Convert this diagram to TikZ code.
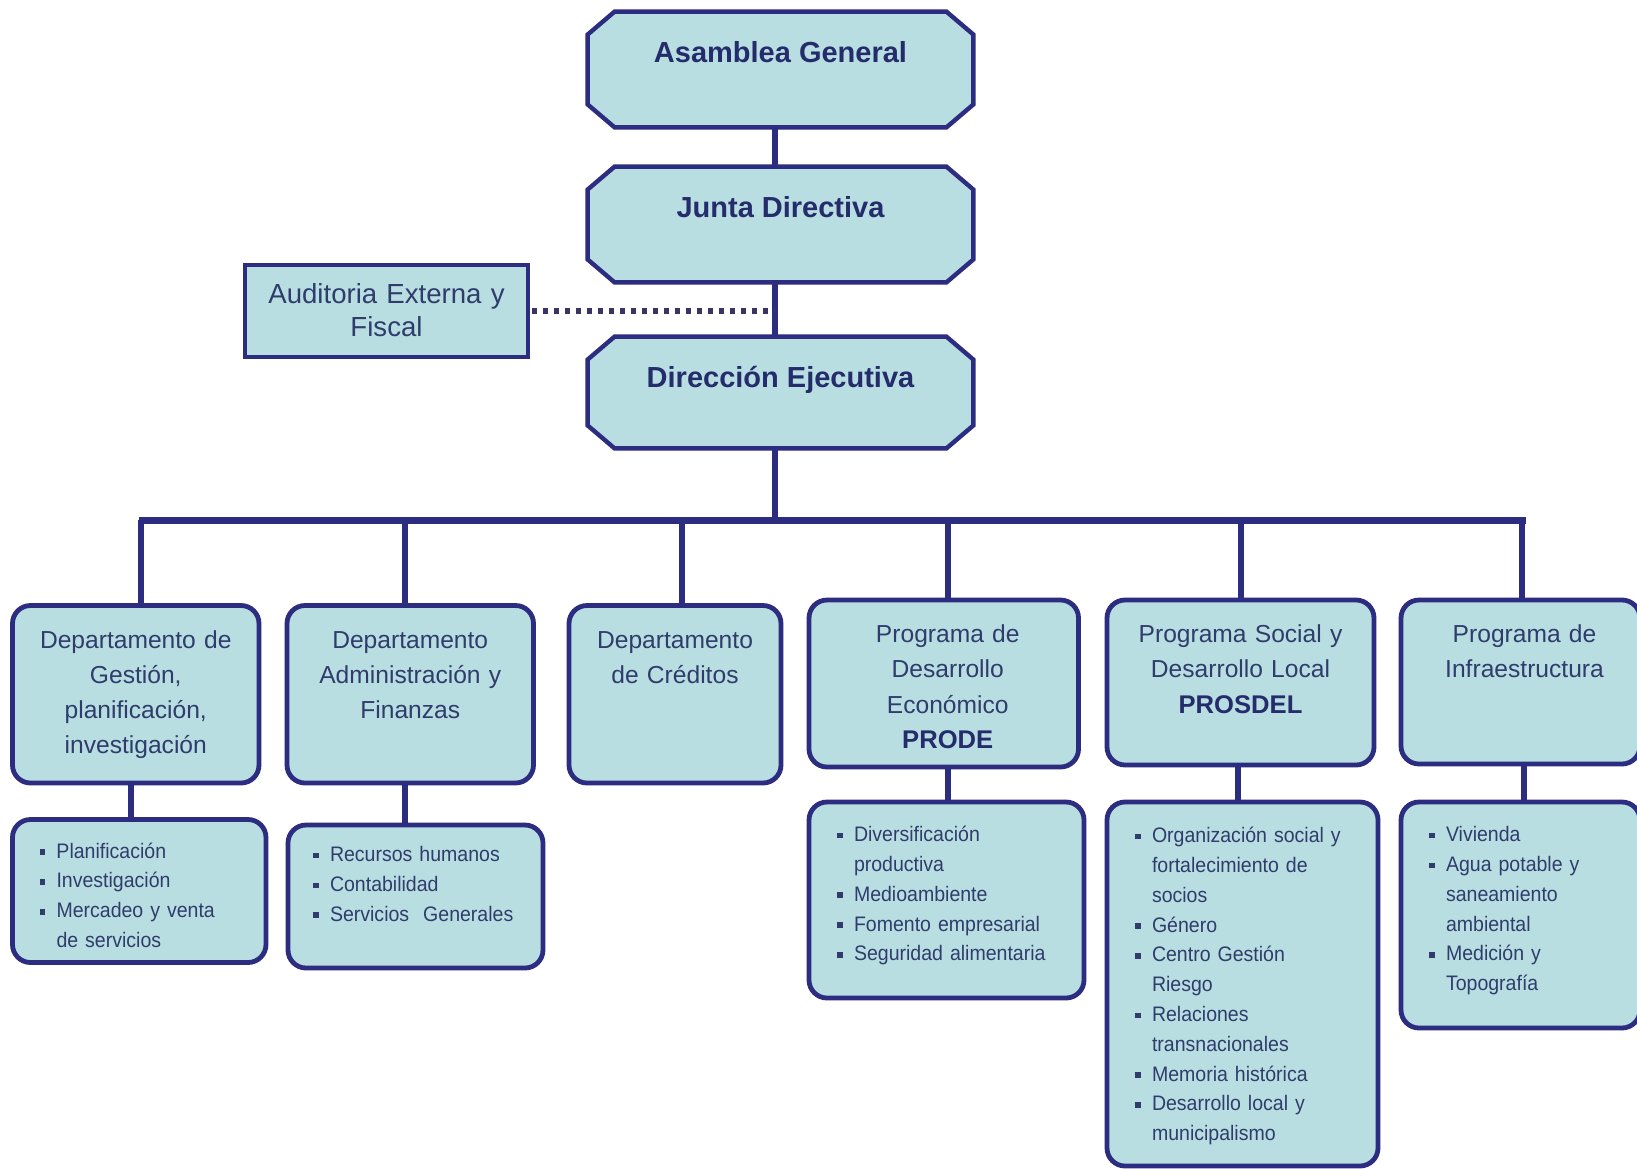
\documentclass[tikz,border=0pt]{standalone}
\usepackage{fontspec}
\setmainfont{Liberation Sans}
\newfontfamily\listfont[FakeStretch=0.93]{Liberation Sans}
\usetikzlibrary{calc}
\definecolor{fillc}{RGB}{185,222,225}
\definecolor{linec}{RGB}{44,44,128}
\definecolor{txtc}{RGB}{47,60,108}
\definecolor{boldc}{RGB}{36,44,108}
\definecolor{dotc}{RGB}{58,52,100}
\newcommand\bullitem{\makebox[8.5pt][l]{\rule[1.6pt]{2.8pt}{2.8pt}}}
\newcommand\indr{\hspace*{8.5pt}}
\newcommand\octdraw[1]{\draw[octline] ([xshift=13.5pt]#1.north west) -- ([xshift=-13.5pt]#1.north east) -- ([yshift=-11.5pt]#1.north east) -- ([yshift=11.5pt]#1.south east) -- ([xshift=-13.5pt]#1.south east) -- ([xshift=13.5pt]#1.south west) -- ([yshift=11.5pt]#1.south west) -- ([yshift=-11.5pt]#1.north west) -- cycle;}
\tikzset{
  conn/.style={draw=linec, line width=3pt},
  busline/.style={draw=linec, line width=3.5pt},
  dotline/.style={draw=dotc, line width=2.6pt, dash pattern=on 2.6pt off 2.9pt},
  octnode/.style={inner sep=0pt, minimum width=192.5pt},
  octline/.style={draw=linec, fill=fillc, line width=2.2pt, line join=miter},
  rbox/.style={draw=linec, fill=fillc, line width=2.4pt, rounded corners=9pt, inner sep=0pt},
  audbox/.style={draw=linec, fill=fillc, line width=1.6pt, inner sep=0pt, minimum width=141.5pt, minimum height=46pt},
  toptxt/.style={font=\fontsize{14.5}{17}\selectfont\bfseries, text=boldc, anchor=base, inner sep=0pt},
  audtxt/.style={font=\fontsize{13.8}{16.5}\selectfont, text=txtc, anchor=base, inner sep=0pt, align=center, text width=135pt},
  midtxt/.style={font=\fontsize{12.3}{17.6}\selectfont, text=txtc, anchor=base, inner sep=0pt, align=center, text width=125pt},
  listtxt/.style={font=\listfont\fontsize{10.5}{14.9}\selectfont, text=txtc, anchor=base west, inner sep=0pt, align=left, text width=125pt},
}
\newcommand\bfl[1]{{\fontsize{12.8}{17.6}\selectfont\bfseries\color{boldc}#1}}
\begin{document}
\begin{tikzpicture}[x=0.5pt,y=-0.5pt]
\useasboundingbox (0,0) rectangle (1637,1168);
\fill[white] (0,0) rectangle (1637,1168);

% top octagons
\node[octnode, minimum height=57.5pt] (AG) at (780.5,69.5) {};
\node[octnode, minimum height=57.5pt] (JD) at (780.5,224.5) {};
\node[octnode, minimum height=55.5pt] (DE) at (780.5,392.5) {};
\octdraw{AG}
\octdraw{JD}
\octdraw{DE}
\node[toptxt] (tAG) at ([yshift=-25.5pt]AG.north) {Asamblea General};
\node[toptxt] (tJD) at ([yshift=-25.5pt]JD.north) {Junta Directiva};
\node[toptxt] (tDE) at ([yshift=-25.5pt]DE.north) {Dirección Ejecutiva};

% audit box
\node[audbox] (AUD) at (386.5,311) {};
\node[audtxt] (tAUD) at ([yshift=-20pt]AUD.north) {Auditoria Externa y\\Fiscal};

% level 2 boxes
\node[rbox, minimum width=123.25pt, minimum height=88.75pt] (b1) at (135.75,694.25) {};
\node[rbox, minimum width=123.25pt, minimum height=88.75pt] (b2) at (410.25,694.25) {};
\node[rbox, minimum width=106pt, minimum height=88.75pt] (b3) at (675,694.25) {};
\node[rbox, minimum width=134.75pt, minimum height=83.5pt] (b4) at (943.75,683.5) {};
\node[rbox, minimum width=133.5pt, minimum height=82.5pt] (b5) at (1240.5,682.5) {};
\node[rbox, minimum width=119.5pt, minimum height=82pt] (b6) at (1520.5,682) {};

\node[midtxt] (tb1) at ([yshift=-22.5pt]b1.north) {Departamento de\\Gestión,\\planificación,\\investigación};
\node[midtxt] (tb2) at ([yshift=-22.5pt]b2.north) {Departamento\\Administración y\\Finanzas};
\node[midtxt] (tb3) at ([yshift=-22.5pt]b3.north) {Departamento\\de Créditos};
\node[midtxt] (tb4) at ([xshift=2pt,yshift=-22.5pt]b4.north) {Programa de\\Desarrollo\\Económico\\\bfl{PRODE}};
\node[midtxt] (tb5) at ([yshift=-22.5pt]b5.north) {Programa Social y\\Desarrollo Local\\\bfl{PROSDEL}};
\node[midtxt] (tb6) at ([xshift=2pt,yshift=-22.5pt]b6.north) {Programa de\\Infraestructura};

% level 3 lists
\node[rbox, minimum width=126.75pt, minimum height=71.5pt] (l1) at (139.25,891) {};
\node[rbox, minimum width=127.5pt, minimum height=71.5pt] (l2) at (415.5,896.5) {};
\node[rbox, minimum width=137.5pt, minimum height=98pt] (l4) at (946.5,900) {};
\node[rbox, minimum width=135.5pt, minimum height=182pt] (l5) at (1242.5,984) {};
\node[rbox, minimum width=119.5pt, minimum height=113pt] (l6) at (1520.5,915) {};

\node[listtxt] (tl1) at ([xshift=14.5pt,yshift=-20.5pt]l1.north west) {\bullitem Planificación\\\bullitem Investigación\\\bullitem Mercadeo y venta\\\indr de servicios};
\node[listtxt] (tl2) at ([xshift=13.5pt,yshift=-19.5pt]l2.north west) {\bullitem Recursos humanos\\\bullitem Contabilidad\\\bullitem Servicios\ \ Generales};
\node[listtxt] (tl4) at ([xshift=15pt,yshift=-21pt]l4.north west) {\bullitem Diversificación\\\indr productiva\\\bullitem Medioambiente\\\bullitem Fomento empresarial\\\bullitem Seguridad alimentaria};
\node[listtxt] (tl5) at ([xshift=15pt,yshift=-21.5pt]l5.north west) {\bullitem Organización social y\\\indr fortalecimiento de\\\indr socios\\\bullitem Género\\\bullitem Centro Gestión\\\indr Riesgo\\\bullitem Relaciones\\\indr transnacionales\\\bullitem Memoria histórica\\\bullitem Desarrollo local y\\\indr municipalismo};
\node[listtxt] (tl6) at ([xshift=15pt,yshift=-21pt]l6.north west) {\bullitem Vivienda\\\bullitem Agua potable y\\\indr saneamiento\\\indr ambiental\\\bullitem Medición y\\\indr Topografía};

% connectors
\coordinate (spine) at ([xshift=-2.75pt]JD.south);
\draw[conn] ([xshift=-2.75pt]AG.south) -- ([xshift=-2.75pt]JD.north);
\draw[conn] ([xshift=-2.75pt]JD.south) -- ([xshift=-2.75pt]DE.north);
\draw[dotline] ([xshift=1pt]AUD.east) -- (spine |- AUD.east);

\coordinate (busL) at (139,520);
\coordinate (busR) at (1526,520);
\draw[busline] (busL) -- (busR);
\draw[conn] ([xshift=-2.75pt]DE.south) -- ([xshift=-2.75pt]DE.south |- busL);

\coordinate (d1) at ([xshift=2.6pt]b1.north);
\coordinate (d2) at ([xshift=-2.6pt]b2.north);
\coordinate (d3) at ([xshift=3.5pt]b3.north);
\coordinate (d4) at ([xshift=2.1pt]b4.north);
\coordinate (d5) at (b5.north);
\coordinate (d6) at ([xshift=0.75pt]b6.north);
\foreach \d in {d1,d2,d3,d4,d5,d6}{
  \draw[conn] (\d) -- (\d |- busL);
}

\coordinate (e1) at ([xshift=-2.6pt]b1.south);
\coordinate (e2) at ([xshift=-2.6pt]b2.south);
\coordinate (e4) at ([xshift=2.1pt]b4.south);
\coordinate (e5) at ([xshift=-1.25pt]b5.south);
\coordinate (e6) at ([xshift=1.75pt]b6.south);
\draw[conn] (e1) -- (e1 |- l1.north);
\draw[conn] (e2) -- (e2 |- l2.north);
\draw[conn] (e4) -- (e4 |- l4.north);
\draw[conn] (e5) -- (e5 |- l5.north);
\draw[conn] (e6) -- (e6 |- l6.north);
\end{tikzpicture}
\end{document}
